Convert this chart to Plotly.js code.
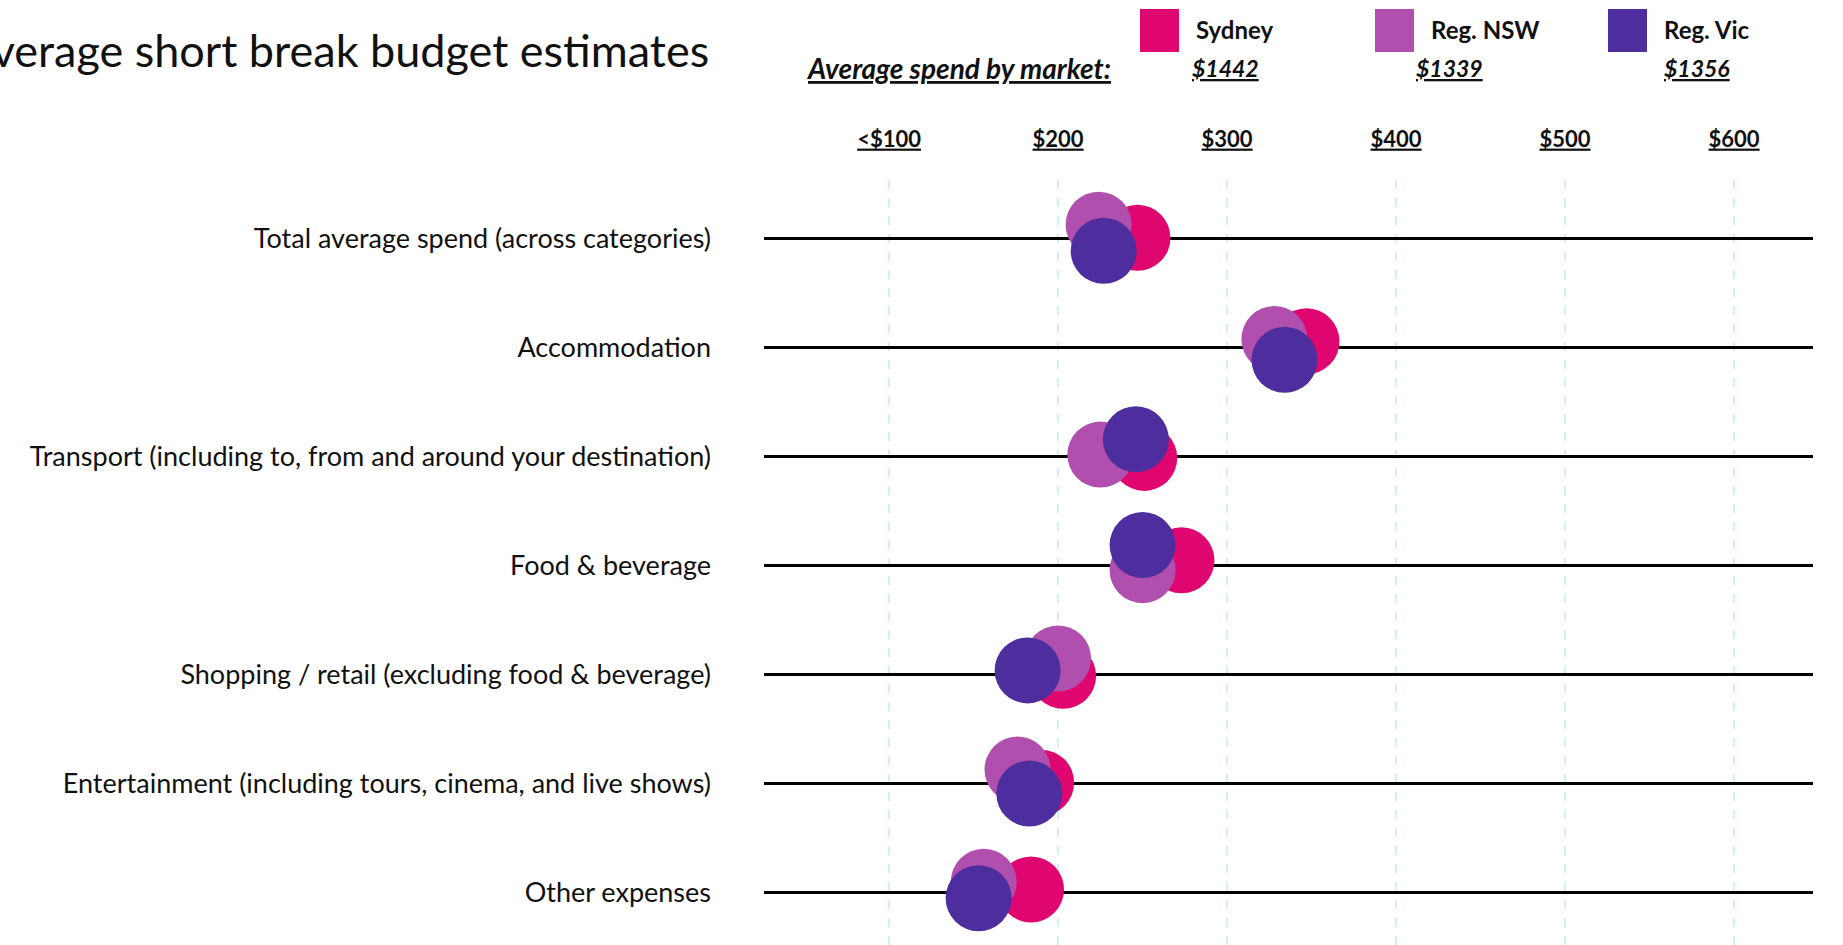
<!DOCTYPE html>
<html>
<head>
<meta charset="utf-8">
<script src="https://cdn.plot.ly/plotly-3.0.1.min.js"></script>
<style>
  html, body { margin: 0; padding: 0; background: #ffffff; }
  #chart { width: 1843px; height: 945px; }
</style>
</head>
<body>
<div id="chart"></div>
<script>
// ---------------- DATA ----------------
const categories = [
  'Total average spend (across categories)',
  'Accommodation',
  'Transport (including to, from and around your destination)',
  'Food & beverage',
  'Shopping / retail (excluding food & beverage)',
  'Entertainment (including tours, cinema, and live shows)',
  'Other expenses'
];
const seriesNames = ['Sydney', 'Reg. NSW', 'Reg. Vic'];
const sydney = [247, 347, 251, 273, 203, 190, 184];
const regNSW = [224, 328, 225, 250, 200, 176, 156];
const regVic = [227, 334, 246, 250, 182, 183, 153];
const marketAverage = [1442, 1339, 1356];
const tickValues = [100, 200, 300, 400, 500, 600];
const tickLabels = ['<$100', '$200', '$300', '$400', '$500', '$600'];
const chartTitle = 'Average short break budget estimates';
const headerLabel = 'Average spend by market:';

// ---------------- STYLE / LAYOUT ----------------
const colors = ['#E0066F', '#B04FAD', '#4E2E9E'];
// small vertical nudges (in category units) so overlapping bubbles stay visible
const nudges = [
  [-0.01, -0.06, 0.01, -0.05, 0.01, -0.01, -0.03],
  [-0.13, -0.08, -0.02, 0.04, -0.15, -0.13, -0.10],
  [0.11, 0.11, -0.16, -0.19, -0.04, 0.09, 0.05]
];
const W = 1843, H = 945;
const M = { l: 764, r: 30, t: 180, b: 0 };
const plotW = W - M.l - M.r, plotH = H - M.t - M.b;
const px = x => (x - M.l) / plotW;          // pixel -> paper x
const py = y => (H - M.b - y) / plotH;      // pixel -> paper y

const FONT = 'Lato, "Open Sans", sans-serif';
const TXT = '#111111';

const values = [sydney, regNSW, regVic];
const traces = values.map((vals, s) => ({
  type: 'scatter',
  mode: 'markers',
  name: seriesNames[s],
  x: vals,
  y: vals.map((v, i) => i + nudges[s][i]),
  marker: { size: 66, color: colors[s], line: { width: 0 }, opacity: 1 },
  cliponaxis: false,
  hoverinfo: 'x+name'
}));

const legendX = [1140, 1375, 1608];
const sqW = 39;
const shapes = [];
const annotations = [];

annotations.push({
  xref: 'paper', yref: 'paper', x: px(711), y: py(50),
  xanchor: 'right', yanchor: 'middle', showarrow: false,
  text: chartTitle, font: { family: FONT, size: 45, color: TXT }
});
annotations.push({
  xref: 'paper', yref: 'paper', x: px(958), y: py(68),
  xanchor: 'center', yanchor: 'middle', showarrow: false,
  text: '<u><b><i>' + headerLabel + '</i></b></u>',
  font: { family: FONT, size: 28, color: TXT }
});
const avgX = [1225, 1449, 1697];
seriesNames.forEach((name, s) => {
  shapes.push({
    type: 'rect', xref: 'paper', yref: 'paper',
    x0: px(legendX[s]), x1: px(legendX[s] + sqW), y0: py(52), y1: py(9),
    fillcolor: colors[s], line: { width: 0 }
  });
  annotations.push({
    xref: 'paper', yref: 'paper', x: px(legendX[s] + sqW + 15), y: py(29),
    xanchor: 'left', yanchor: 'middle', showarrow: false,
    text: '<b>' + name + '</b>', font: { family: FONT, size: 24, color: TXT }
  });
  annotations.push({
    xref: 'paper', yref: 'paper', x: px(avgX[s]), y: py(68),
    xanchor: 'center', yanchor: 'middle', showarrow: false,
    text: '<u><b><i>$' + marketAverage[s] + '</i></b></u>',
    font: { family: FONT, size: 23, color: TXT }
  });
});

const layout = {
  width: W, height: H,
  margin: M,
  paper_bgcolor: '#ffffff',
  plot_bgcolor: '#ffffff',
  showlegend: false,
  font: { family: FONT, color: TXT },
  xaxis: {
    side: 'top',
    range: [26, 646.7],
    tickmode: 'array',
    tickvals: tickValues,
    ticktext: tickLabels.map(t => '<u><b>' + t + '</b></u>'),
    tickfont: { family: FONT, size: 22, color: TXT },
    ticks: '',
    ticklabelstandoff: 28,
    showgrid: true,
    gridcolor: '#d2f0f0',
    gridwidth: 1.5,
    griddash: 'dash',
    zeroline: false,
    showline: false,
    fixedrange: true
  },
  yaxis: {
    range: [6.48, -0.54],
    tickmode: 'array',
    tickvals: categories.map((c, i) => i),
    ticktext: categories,
    tickfont: { family: FONT, size: 27, color: TXT },
    ticks: '',
    ticklabelstandoff: 52,
    showgrid: true,
    gridcolor: '#000000',
    gridwidth: 3,
    zeroline: false,
    showline: false,
    fixedrange: true
  },
  shapes: shapes,
  annotations: annotations
};

Plotly.newPlot('chart', traces, layout, { displayModeBar: false, staticPlot: true });
</script>
</body>
</html>
